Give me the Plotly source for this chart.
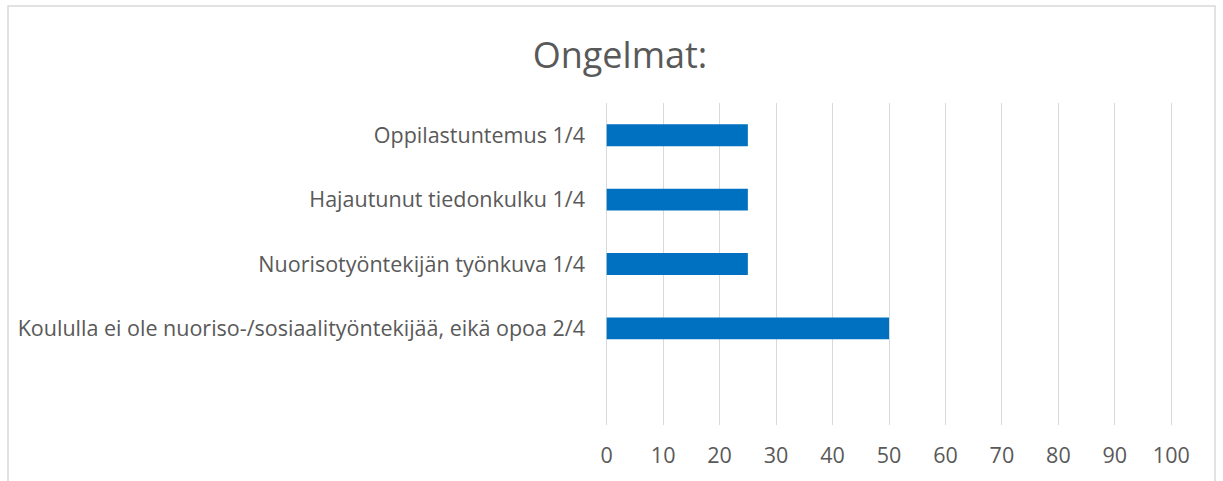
import plotly.graph_objects as go

categories = [
    "Koululla ei ole nuoriso-/sosiaalityöntekijää, eikä opoa 2/4",
    "Nuorisotyöntekijän työnkuva 1/4",
    "Hajautunut tiedonkulku 1/4",
    "Oppilastuntemus 1/4",
]
values = [50, 25, 25, 25]
x_ticks = [0, 10, 20, 30, 40, 50, 60, 70, 80, 90, 100]
title_text = "Ongelmat:"

FONT = "Open Sans"
TXT = "#595959"
GRID = "#D9D9D9"

fig = go.Figure(
    go.Bar(
        x=values,
        y=categories,
        orientation="h",
        marker=dict(color="#0070C0", line=dict(width=0)),
        width=0.34,
    )
)

W, H = 1223, 481
L, R, T, B = 605, 50, 103, 56
pw, ph = W - L - R, H - T - B

def px_x(p):
    return (p - L) / pw

def px_y(p):
    return (H - B - p) / ph

fig.update_layout(
    width=W,
    height=H,
    margin=dict(l=L, r=R, t=T, b=B, autoexpand=False),
    paper_bgcolor="white",
    plot_bgcolor="white",
    showlegend=False,
    title=dict(
        text=title_text,
        x=620 / W,
        xanchor="center",
        y=1 - 55 / H,
        yanchor="middle",
        font=dict(family=FONT, size=36, color=TXT),
    ),
    font=dict(family=FONT, size=21.5, color=TXT),
    xaxis=dict(
        range=[-0.3, 100.3],
        tickvals=x_ticks,
        showgrid=True,
        gridcolor=GRID,
        gridwidth=1,
        zeroline=True,
        zerolinecolor=GRID,
        zerolinewidth=1,
        showline=False,
        ticks="",
        ticklabelstandoff=15,
        tickfont=dict(family=FONT, size=21.5, color=TXT),
    ),
    yaxis=dict(
        type="category",
        categoryorder="array",
        categoryarray=categories,
        range=[-1.5, 3.5],
        showgrid=False,
        zeroline=False,
        showline=False,
        ticks="",
        ticklabelstandoff=19,
        tickfont=dict(family=FONT, size=21.5, color=TXT),
    ),
    shapes=[
        dict(
            type="rect",
            xref="paper",
            yref="paper",
            x0=px_x(8),
            x1=px_x(1215),
            y0=px_y(495),
            y1=px_y(6),
            line=dict(color=GRID, width=1.5),
            fillcolor="rgba(0,0,0,0)",
            layer="below",
        )
    ],
)

fig.write_html(
    "out.html",
    config={"displayModeBar": False},
    post_script="document.body.style.margin='0';document.body.style.overflow='hidden';",
)
